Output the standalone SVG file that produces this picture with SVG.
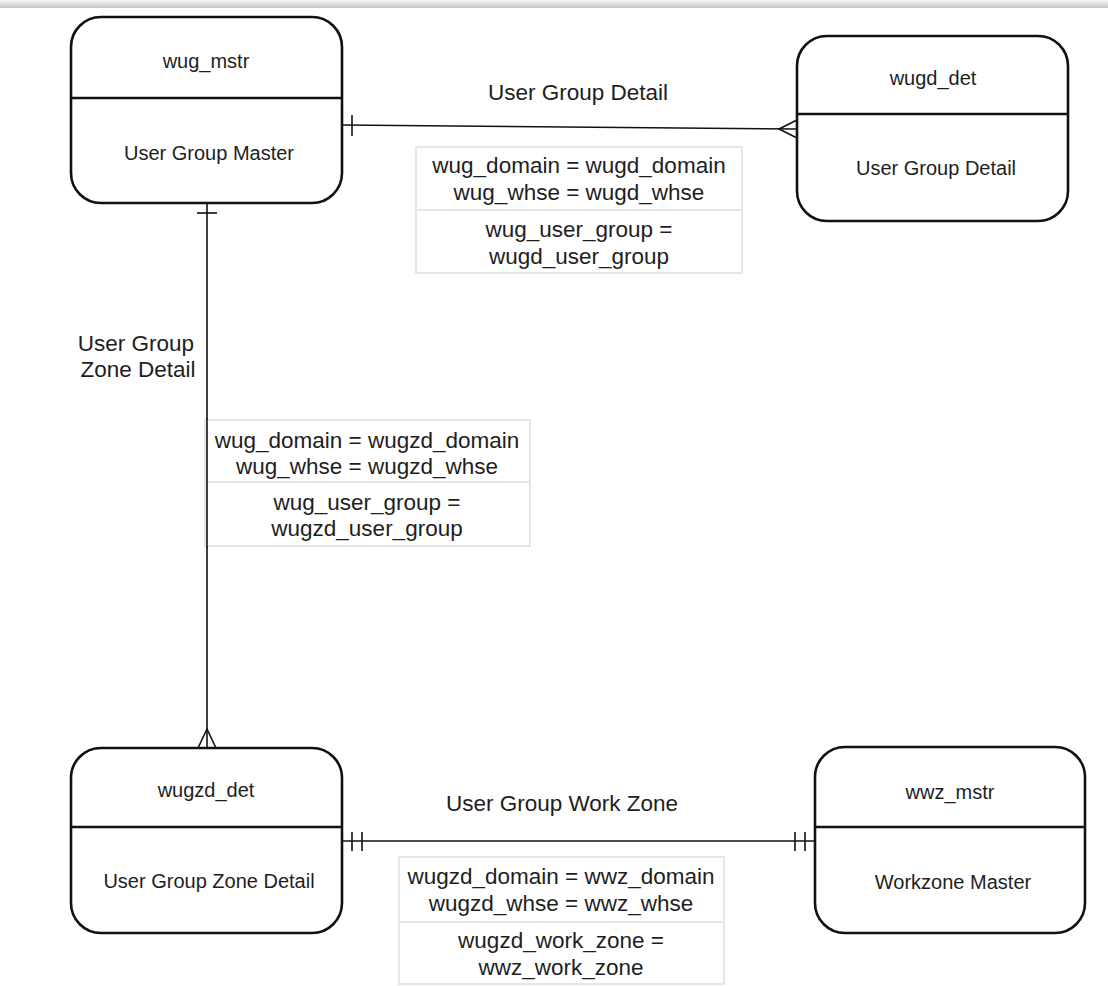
<svg xmlns="http://www.w3.org/2000/svg" width="1108" height="986" viewBox="0 0 1108 986">
  <defs>
    <linearGradient id="topShade" x1="0" y1="0" x2="0" y2="1">
      <stop offset="0" stop-color="#f6f6f6"/>
      <stop offset="1" stop-color="#c4c4c4"/>
    </linearGradient>
    <style>
      .entity { fill: #fff; stroke: #111; stroke-width: 2.6; }
      .divider { stroke: #111; stroke-width: 2.6; }
      .title { font-family: "Liberation Sans", Arial, sans-serif; font-size: 20px; fill: #1e1e1e; text-anchor: middle; dominant-baseline: central; }
      .label { font-family: "Liberation Sans", Arial, sans-serif; font-size: 22.5px; fill: #1e1e1e; text-anchor: middle; dominant-baseline: central; }
      .join { fill: #fff; stroke: #e6e6e6; stroke-width: 2; }
      .rel { fill: none; stroke: #111; stroke-width: 1.6; }
    </style>
  </defs>

  <rect width="1108" height="986" fill="#fff"/>
  <rect x="0" y="0" width="1108" height="8" fill="url(#topShade)"/>

  <!-- relationship lines with crow's-foot ends -->
  <g id="connectors">
    <!-- wug_mstr -> wugd_det : one to many -->
    <path class="rel" d="M342,125 L797,129"/>
    <path class="rel" d="M352,115 L352,136"/>
    <path class="rel" d="M797,120 L779,129 L797,138"/>

    <!-- wug_mstr -> wugzd_det : one to many -->
    <path class="rel" d="M207,203 L207,748"/>
    <path class="rel" d="M197,213 L217,213"/>
    <path class="rel" d="M198,748 L207,729 L216,748"/>

    <!-- wugzd_det -> wwz_mstr : exactly one on both sides -->
    <path class="rel" d="M342,841 L815,841"/>
    <path class="rel" d="M352,832 L352,851 M362,832 L362,851"/>
    <path class="rel" d="M795,832 L795,851 M805,832 L805,851"/>
  </g>

  <!-- relationship names -->
  <g id="relation-labels">
    <text class="label" x="578" y="92">User Group Detail</text>
    <text class="label" x="136" y="343">User Group</text>
    <text class="label" x="138" y="369">Zone Detail</text>
    <text class="label" x="562" y="803">User Group Work Zone</text>
  </g>

  <!-- join conditions -->
  <g id="join-wugd">
    <rect class="join" x="416" y="147" width="326" height="63"/>
    <rect class="join" x="416" y="210" width="326" height="63"/>
    <text class="label" x="579" y="165">wug_domain = wugd_domain</text>
    <text class="label" x="579" y="192">wug_whse = wugd_whse</text>
    <text class="label" x="579" y="229">wug_user_group =</text>
    <text class="label" x="579" y="256">wugd_user_group</text>
  </g>

  <g id="join-wugzd">
    <rect class="join" x="205" y="420" width="325" height="62"/>
    <rect class="join" x="205" y="482" width="325" height="64"/>
    <path class="rel" d="M207,418 L207,548"/>
    <text class="label" x="367" y="440">wug_domain = wugzd_domain</text>
    <text class="label" x="367" y="466">wug_whse = wugzd_whse</text>
    <text class="label" x="367" y="502">wug_user_group =</text>
    <text class="label" x="367" y="528">wugzd_user_group</text>
  </g>

  <g id="join-wwz">
    <rect class="join" x="399" y="857" width="325" height="65"/>
    <rect class="join" x="399" y="922" width="325" height="62"/>
    <text class="label" x="561" y="876">wugzd_domain = wwz_domain</text>
    <text class="label" x="561" y="903">wugzd_whse = wwz_whse</text>
    <text class="label" x="561" y="940">wugzd_work_zone =</text>
    <text class="label" x="561" y="967">wwz_work_zone</text>
  </g>

  <!-- entities -->
  <g id="wug_mstr">
    <rect class="entity" x="71" y="17" width="271" height="186" rx="30"/>
    <line class="divider" x1="71" y1="98" x2="342" y2="98"/>
    <text class="title" x="206" y="61">wug_mstr</text>
    <text class="title" x="209" y="153">User Group Master</text>
  </g>

  <g id="wugd_det">
    <rect class="entity" x="797" y="36" width="271" height="185" rx="30"/>
    <line class="divider" x1="797" y1="114" x2="1068" y2="114"/>
    <text class="title" x="933" y="78">wugd_det</text>
    <text class="title" x="936" y="168">User Group Detail</text>
  </g>

  <g id="wugzd_det">
    <rect class="entity" x="71" y="748" width="271" height="185" rx="30"/>
    <line class="divider" x1="71" y1="827" x2="342" y2="827"/>
    <text class="title" x="206" y="790">wugzd_det</text>
    <text class="title" x="209" y="881">User Group Zone Detail</text>
  </g>

  <g id="wwz_mstr">
    <rect class="entity" x="815" y="747" width="270" height="186" rx="30"/>
    <line class="divider" x1="815" y1="827" x2="1085" y2="827"/>
    <text class="title" x="950" y="792">wwz_mstr</text>
    <text class="title" x="953" y="882">Workzone Master</text>
  </g>
</svg>
